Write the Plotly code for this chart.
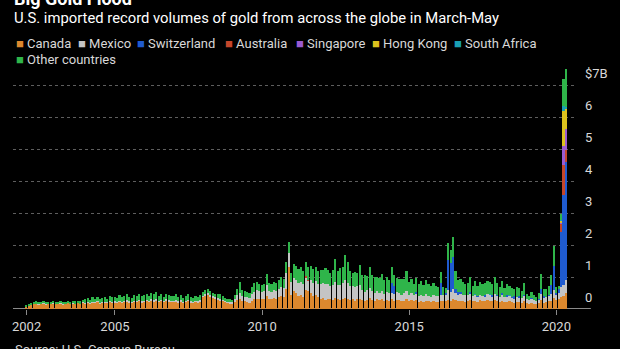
import pandas as pd
import plotly.graph_objects as go

# Monthly U.S. gold imports by origin, $ billions, Jan 2002 - May 2020
START_MONTH = "2002-01-01"

CANADA = [
    .08, .11, .14, .16, .17, .15, .16, .18, .15, .17, .16, .18,  # 2002
    .17, .16, .18, .15, .17, .19, .16, .18, .17, .19, .16, .20,  # 2003
    .18, .20, .17, .21, .19, .22, .18, .20, .21, .19, .22, .20,  # 2004
    .21, .19, .23, .20, .22, .24, .21, .20, .23, .22, .25, .21,  # 2005
    .23, .25, .22, .26, .24, .27, .23, .25, .22, .26, .24, .23,  # 2006
    .22, .24, .21, .23, .20, .22, .25, .21, .19, .22, .20, .24,  # 2007
    .38, .42, .45, .40, .36, .33, .30, .28, .25, .22, .20, .18,  # 2008
    .16, .22, .28, .32, .26, .24, .22, .20, .26, .30, .32, .30,  # 2009
    .30, .32, .40, .31, .30, .34, .32, .36, .40, .38, .62, 1.30,  # 2010
    .45, .55, .50, .40, .45, .38, .60, .55, .50, .42, .45, .38,  # 2011
    .30, .35, .28, .32, .30, .27, .33, .30, .28, .30, .35, .32,  # 2012
    .28, .30, .26, .32, .30, .27, .25, .29, .33, .28, .26, .30,  # 2013
    .27, .30, .25, .28, .26, .30, .25, .28, .27, .24, .26, .30,  # 2014
    .25, .28, .24, .27, .22, .25, .23, .26, .24, .22, .25, .23,  # 2015
    .22, .25, .24, .26, .28, .25, .30, .27, .24, .26, .25, .23,  # 2016
    .25, .28, .24, .26, .23, .27, .25, .24, .28, .26, .24, .27,  # 2017
    .24, .22, .26, .23, .21, .24, .22, .20, .23, .21, .19, .24,  # 2018
    .18, .16, .19, .17, .15, .18, .28, .20, .22, .24, .26, .35,  # 2019
    .28, .30, .38, .42, .50,                                      # 2020
]

MEXICO = [
    .01, .01, .01, .01, .01, .01, .01, .01, .01, .01, .01, .01,
    .01, .01, .01, .01, .01, .01, .01, .01, .01, .01, .01, .01,
    .02, .02, .02, .02, .02, .02, .02, .02, .02, .02, .02, .02,
    .03, .03, .03, .03, .03, .03, .03, .03, .03, .03, .03, .03,
    .03, .04, .03, .04, .04, .04, .03, .04, .03, .04, .04, .03,
    .04, .04, .03, .04, .03, .04, .04, .03, .04, .03, .04, .04,
    .04, .04, .05, .05, .04, .04, .04, .04, .04, .03, .03, .04,
    .05, .10, .15, .18, .16, .14, .15, .14, .20, .24, .26, .25,
    .22, .23, .35, .25, .24, .26, .24, .27, .30, .28, .50, .45,
    .38, .42, .40, .42, .40, .40, .38, .35, .40, .40, .42, .40,
    .48, .45, .50, .46, .42, .48, .52, .45, .47, .50, .55, .48,
    .45, .42, .44, .40, .46, .32, .28, .30, .32, .27, .25, .26,
    .24, .26, .22, .25, .23, .20, .22, .24, .22, .21, .23, .25,
    .20, .22, .19, .21, .18, .20, .19, .21, .18, .17, .19, .18,
    .18, .20, .19, .18, .30, .28, .32, .22, .20, .21, .19, .20,
    .18, .20, .17, .19, .16, .18, .17, .16, .19, .18, .16, .19,
    .17, .16, .18, .15, .16, .17, .15, .14, .16, .15, .14, .17,
    .12, .11, .13, .12, .10, .12, .20, .15, .16, .17, .20, .25,
    .18, .20, .30, .33, .40,
]

SWITZERLAND = [
    0, 0, 0, 0, 0, 0, 0, 0, 0, 0, 0, 0,
    0, 0, 0, 0, 0, 0, 0, 0, 0, 0, 0, 0,
    0, 0, 0, 0, 0, 0, 0, 0, 0, 0, 0, 0,
    0, 0, 0, 0, 0, 0, 0, 0, 0, 0, 0, 0,
    0, 0, 0, 0, 0, 0, 0, 0, 0, 0, 0, 0,
    0, 0, 0, 0, 0, 0, 0, 0, 0, 0, 0, 0,
    0, 0, 0, 0, 0, 0, 0, 0, 0, 0, 0, 0,
    0, 0, 0, 0, 0, 0, 0, 0, 0, 0, 0, 0,
    0, 0, 0, 0, 0, 0, 0, 0, 0, 0, 0, 0,
    0, 0, 0, 0, 0, 0, .02, 0, 0, 0, 0, 0,
    0, 0, 0, 0, 0, 0, 0, 0, 0, 0, 0, 0,
    0, 0, 0, 0, 0, 0, 0, 0, 0, 0, 0, 0,
    0, 0, 0, 0, 0, .30, .25, 0, 0, 0, 0, 0,
    0, 0, 0, .04, 0, 0, 0, 0, 0, 0, 0, 0,
    0, .35, 0, .05, .95, .90, 1.00, .15, .10, .05, 0, 0,
    0, .05, 0, 0, .03, 0, 0, .05, 0, 0, .04, 0,
    .03, 0, .05, 0, .08, 0, .02, .06, 0, .05, 0, .04,
    0, 0, .03, 0, 0, .02, .15, .05, 0, .03, .30, .75,
    .05, .12, 1.72, 2.80, 3.70,
]

AUSTRALIA = [
    0, 0, 0, 0, 0, 0, 0, 0, 0, 0, 0, 0,
    0, 0, 0, 0, 0, 0, 0, 0, 0, 0, 0, 0,
    0, 0, 0, 0, 0, 0, 0, 0, 0, 0, 0, 0,
    0, 0, 0, 0, 0, 0, 0, 0, 0, 0, 0, 0,
    0, 0, 0, 0, 0, 0, 0, 0, 0, 0, 0, 0,
    0, 0, 0, 0, 0, 0, 0, 0, 0, 0, 0, 0,
    0, 0, 0, 0, 0, 0, 0, 0, 0, 0, 0, 0,
    0, 0, 0, 0, 0, 0, 0, 0, 0, 0, 0, 0,
    0, 0, 0, 0, 0, 0, 0, 0, 0, 0, 0, 0,
    0, 0, 0, 0, 0, 0, .03, .02, 0, 0, 0, 0,
    0, 0, 0, 0, 0, 0, 0, 0, 0, 0, 0, 0,
    0, 0, 0, 0, 0, 0, 0, 0, 0, 0, 0, 0,
    0, 0, 0, 0, 0, 0, 0, 0, 0, 0, 0, 0,
    0, 0, 0, 0, 0, 0, 0, 0, 0, 0, 0, 0,
    0, 0, 0, 0, 0, 0, 0, 0, 0, 0, 0, 0,
    0, 0, 0, 0, 0, 0, 0, 0, 0, 0, 0, 0,
    0, 0, 0, 0, 0, 0, 0, 0, 0, 0, 0, 0,
    0, 0, 0, 0, 0, 0, 0, 0, 0, 0, 0, 0,
    0, 0, .28, .95, .37,
]

SINGAPORE = [
    0, 0, 0, 0, 0, 0, 0, 0, 0, 0, 0, 0,
    0, 0, 0, 0, 0, 0, 0, 0, 0, 0, 0, 0,
    0, 0, 0, 0, 0, 0, 0, 0, 0, 0, 0, 0,
    0, 0, 0, 0, 0, 0, 0, 0, 0, 0, 0, 0,
    0, 0, 0, 0, 0, 0, 0, 0, 0, 0, 0, 0,
    0, 0, 0, 0, 0, 0, 0, 0, 0, 0, 0, 0,
    0, 0, 0, 0, 0, 0, 0, 0, 0, 0, 0, 0,
    0, 0, 0, 0, 0, 0, 0, 0, 0, 0, 0, 0,
    0, 0, 0, 0, 0, 0, 0, 0, 0, 0, 0, 0,
    0, 0, 0, 0, 0, 0, 0, 0, 0, 0, 0, 0,
    0, 0, 0, 0, 0, 0, 0, 0, 0, 0, 0, 0,
    0, 0, 0, 0, 0, 0, 0, 0, 0, 0, 0, 0,
    0, 0, 0, 0, 0, 0, 0, 0, 0, 0, 0, 0,
    0, 0, 0, 0, 0, 0, 0, 0, 0, 0, 0, 0,
    0, 0, 0, 0, 0, 0, 0, 0, 0, 0, 0, 0,
    0, 0, 0, 0, 0, 0, 0, 0, 0, 0, 0, 0,
    0, 0, 0, 0, 0, 0, 0, 0, 0, 0, 0, 0,
    0, 0, 0, 0, 0, 0, 0, 0, 0, 0, 0, 0,
    0, 0, .02, .60, .67,
]

HONG_KONG = [
    0, 0, 0, 0, 0, 0, 0, 0, 0, 0, 0, 0,
    0, 0, 0, 0, 0, 0, 0, 0, 0, 0, 0, 0,
    0, 0, 0, 0, 0, 0, 0, 0, 0, 0, 0, 0,
    0, 0, 0, 0, 0, 0, 0, 0, 0, 0, 0, 0,
    0, 0, 0, 0, 0, 0, 0, 0, 0, 0, 0, 0,
    0, 0, 0, 0, 0, 0, 0, 0, 0, 0, 0, 0,
    0, 0, 0, 0, 0, 0, 0, 0, 0, 0, 0, 0,
    0, 0, 0, 0, 0, 0, 0, 0, 0, 0, 0, 0,
    0, 0, 0, 0, 0, 0, 0, 0, 0, 0, 0, 0,
    0, 0, 0, 0, 0, 0, 0, 0, 0, 0, 0, 0,
    0, 0, 0, 0, 0, 0, 0, 0, 0, 0, 0, 0,
    0, 0, 0, 0, 0, 0, 0, 0, 0, 0, 0, 0,
    0, 0, 0, 0, 0, 0, 0, 0, 0, 0, 0, 0,
    0, 0, 0, 0, 0, 0, 0, 0, 0, 0, 0, 0,
    0, 0, 0, 0, 0, 0, 0, 0, 0, 0, 0, 0,
    0, 0, 0, 0, 0, 0, 0, 0, 0, 0, 0, 0,
    0, 0, 0, 0, 0, 0, 0, 0, 0, 0, 0, 0,
    0, 0, 0, 0, 0, 0, 0, 0, 0, 0, 0, 0,
    0, 0, .06, 1.10, .60,
]

SOUTH_AFRICA = [
    0, 0, 0, 0, 0, 0, 0, 0, 0, 0, 0, 0,
    0, 0, 0, 0, 0, 0, 0, 0, 0, 0, 0, 0,
    0, 0, 0, 0, 0, 0, 0, 0, 0, 0, 0, 0,
    0, 0, 0, 0, 0, 0, 0, 0, 0, 0, 0, 0,
    0, 0, 0, 0, 0, 0, 0, 0, 0, 0, 0, 0,
    0, 0, 0, 0, 0, 0, 0, 0, 0, 0, 0, 0,
    0, 0, 0, 0, 0, 0, 0, 0, 0, 0, 0, 0,
    0, 0, 0, 0, 0, 0, 0, 0, 0, 0, 0, 0,
    0, 0, 0, 0, 0, 0, 0, 0, 0, 0, 0, 0,
    0, 0, 0, 0, 0, 0, 0, 0, 0, 0, 0, 0,
    0, 0, 0, 0, 0, 0, 0, 0, 0, 0, 0, 0,
    0, 0, 0, 0, 0, 0, 0, 0, 0, 0, 0, 0,
    0, 0, 0, 0, 0, 0, 0, 0, 0, 0, 0, 0,
    0, 0, 0, 0, 0, 0, 0, 0, 0, 0, 0, 0,
    0, 0, 0, 0, 0, 0, 0, 0, 0, 0, 0, 0,
    0, 0, 0, .03, 0, 0, 0, 0, 0, .02, 0, 0,
    0, 0, 0, 0, 0, .03, 0, 0, 0, 0, 0, 0,
    0, 0, 0, 0, 0, 0, 0, 0, 0, 0, 0, 0,
    0, 0, .02, .15, .08,
]

OTHER = [
    .02, .03, .04, .05, .06, .04, .05, .06, .04, .05, .05, .06,
    .05, .06, .04, .07, .05, .06, .05, .07, .06, .05, .07, .08,
    .10, .13, .09, .14, .11, .15, .10, .12, .16, .11, .17, .14,
    .15, .12, .18, .13, .16, .19, .14, .12, .17, .15, .20, .16,
    .17, .19, .15, .20, .18, .21, .16, .19, .14, .18, .17, .15,
    .16, .18, .14, .17, .12, .15, .19, .13, .12, .16, .13, .17,
    .12, .14, .12, .10, .10, .11, .12, .14, .12, .09, .07, .08,
    .08, .12, .20, .35, .18, .17, .15, .16, .22, .28, .26, .24,
    .23, .23, .34, .24, .24, .25, .24, .27, .30, .29, .36, .35,
    .31, .43, .45, .43, .45, .42, .44, .40, .45, .43, .43, .42,
    .45, .42, .50, .44, .40, .47, .72, .45, .52, .50, .78, .67,
    .45, .40, .45, .42, .60, .48, .52, .45, .65, .50, .49, .44,
    .45, .54, .43, .47, .41, .50, .33, .45, .46, .50, .46, .63,
    .40, .45, .35, .46, .38, .42, .33, .45, .36, .33, .36, .32,
    .30, .36, .27, .18, .52, .41, .64, .56, .38, .43, .40, .35,
    .37, .47, .32, .40, .30, .38, .36, .35, .41, .37, .33, .54,
    .36, .30, .38, .28, .33, .27, .26, .22, .30, .24, .22, .37,
    .18, .14, .17, .16, .12, .19, .47, .22, .25, .28, .29, .61,
    .17, .10, .20, .85, 1.17,
]

SERIES = [
    ("Canada", CANADA, "#dc882e"),
    ("Mexico", MEXICO, "#c4c4c4"),
    ("Switzerland", SWITZERLAND, "#1f5bd0"),
    ("Australia", AUSTRALIA, "#c4462a"),
    ("Singapore", SINGAPORE, "#9a5bd0"),
    ("Hong Kong", HONG_KONG, "#dcc21e"),
    ("South Africa", SOUTH_AFRICA, "#1aa0b4"),
    ("Other countries", OTHER, "#2fb54a"),
]

Y_TICKS = [0, 1, 2, 3, 4, 5, 6, 7]
Y_TICK_TEXT = ["0", "1", "2", "3", "4", "5", "6", "$7B"]
X_TICKS = ["2002-01-01", "2005-01-01", "2010-01-01", "2015-01-01", "2020-01-01"]
X_TICK_TEXT = ["2002", "2005", "2010", "2015", "2020"]

months = pd.date_range(START_MONTH, periods=len(CANADA), freq="MS")

# Page geometry (pixels)
W, H = 620, 349
ML, MR, MT, MB = 12, 42, 62, 40
PW, PH = W - ML - MR, H - MT - MB


def px(x):
    return (x - ML) / PW


def py(y):
    return (H - MB - y) / PH


FONT = "Roboto, Arial, sans-serif"
TEXT = "#d8d8d8"

fig = go.Figure()
for name, vals, color in SERIES:
    fig.add_trace(go.Bar(
        x=months, y=vals, name=name,
        marker=dict(color=color, line=dict(width=0)),
        showlegend=False,
    ))

fig.update_layout(
    width=W, height=H,
    margin=dict(l=ML, r=MR, t=MT, b=MB),
    paper_bgcolor="#000000", plot_bgcolor="#000000",
    barmode="stack", bargap=0.28,
    font=dict(family=FONT, color=TEXT, size=13),
    xaxis=dict(
        type="date", range=["2001-07-16", "2020-08-07"],
        tickvals=X_TICKS, ticktext=X_TICK_TEXT,
        ticks="outside", ticklen=5, tickcolor="#8a8a8a", tickwidth=1,
        showgrid=False, showline=False, zeroline=False,
        tickfont=dict(size=13, color=TEXT),
    ),
    yaxis=dict(
        range=[0, 7.72], side="right",
        tickvals=Y_TICKS, ticktext=Y_TICK_TEXT,
        showgrid=True, gridcolor="#5e5e5e", griddash="dot", gridwidth=1,
        zeroline=False, showline=False, ticks="",
        ticklabelstandoff=10, ticklabelshift=-12,
        tickfont=dict(size=13, color=TEXT),
    ),
)

# Solid baseline running past the plot edge
fig.add_shape(type="line", xref="paper", yref="y", x0=0, x1=px(595), y0=0, y1=0,
              line=dict(color="#8a8a8a", width=2), layer="below")

# Headline, subtitle, source
fig.add_annotation(text="<b>Big Gold Flood</b>", xref="paper", yref="paper",
                   x=px(11), y=py(-1), xanchor="left", yanchor="middle",
                   showarrow=False, font=dict(size=18, color="#ffffff"))
fig.add_annotation(text="U.S. imported record volumes of gold from across the globe in March-May",
                   xref="paper", yref="paper", x=px(11), y=py(18),
                   xanchor="left", yanchor="middle", showarrow=False,
                   font=dict(size=14.8, color="#ffffff"))
fig.add_annotation(text="Source: U.S. Census Bureau", xref="paper", yref="paper",
                   x=px(12), y=py(349), xanchor="left", yanchor="middle",
                   showarrow=False, font=dict(size=13, color=TEXT))

# Compact legend keys
LEGEND_SPOTS = [(13, 44), (76, 44), (135, 44), (224, 44), (295, 44), (372, 44), (455, 44), (13, 60)]
for (name, _, color), (lx, ly) in zip(SERIES, LEGEND_SPOTS):
    fig.add_annotation(
        text=f"<span style='color:{color}'>■</span> {name}",
        xref="paper", yref="paper", x=px(lx), y=py(ly),
        xanchor="left", yanchor="middle", showarrow=False,
        font=dict(size=13, color=TEXT),
    )

fig.write_html("out.html")
